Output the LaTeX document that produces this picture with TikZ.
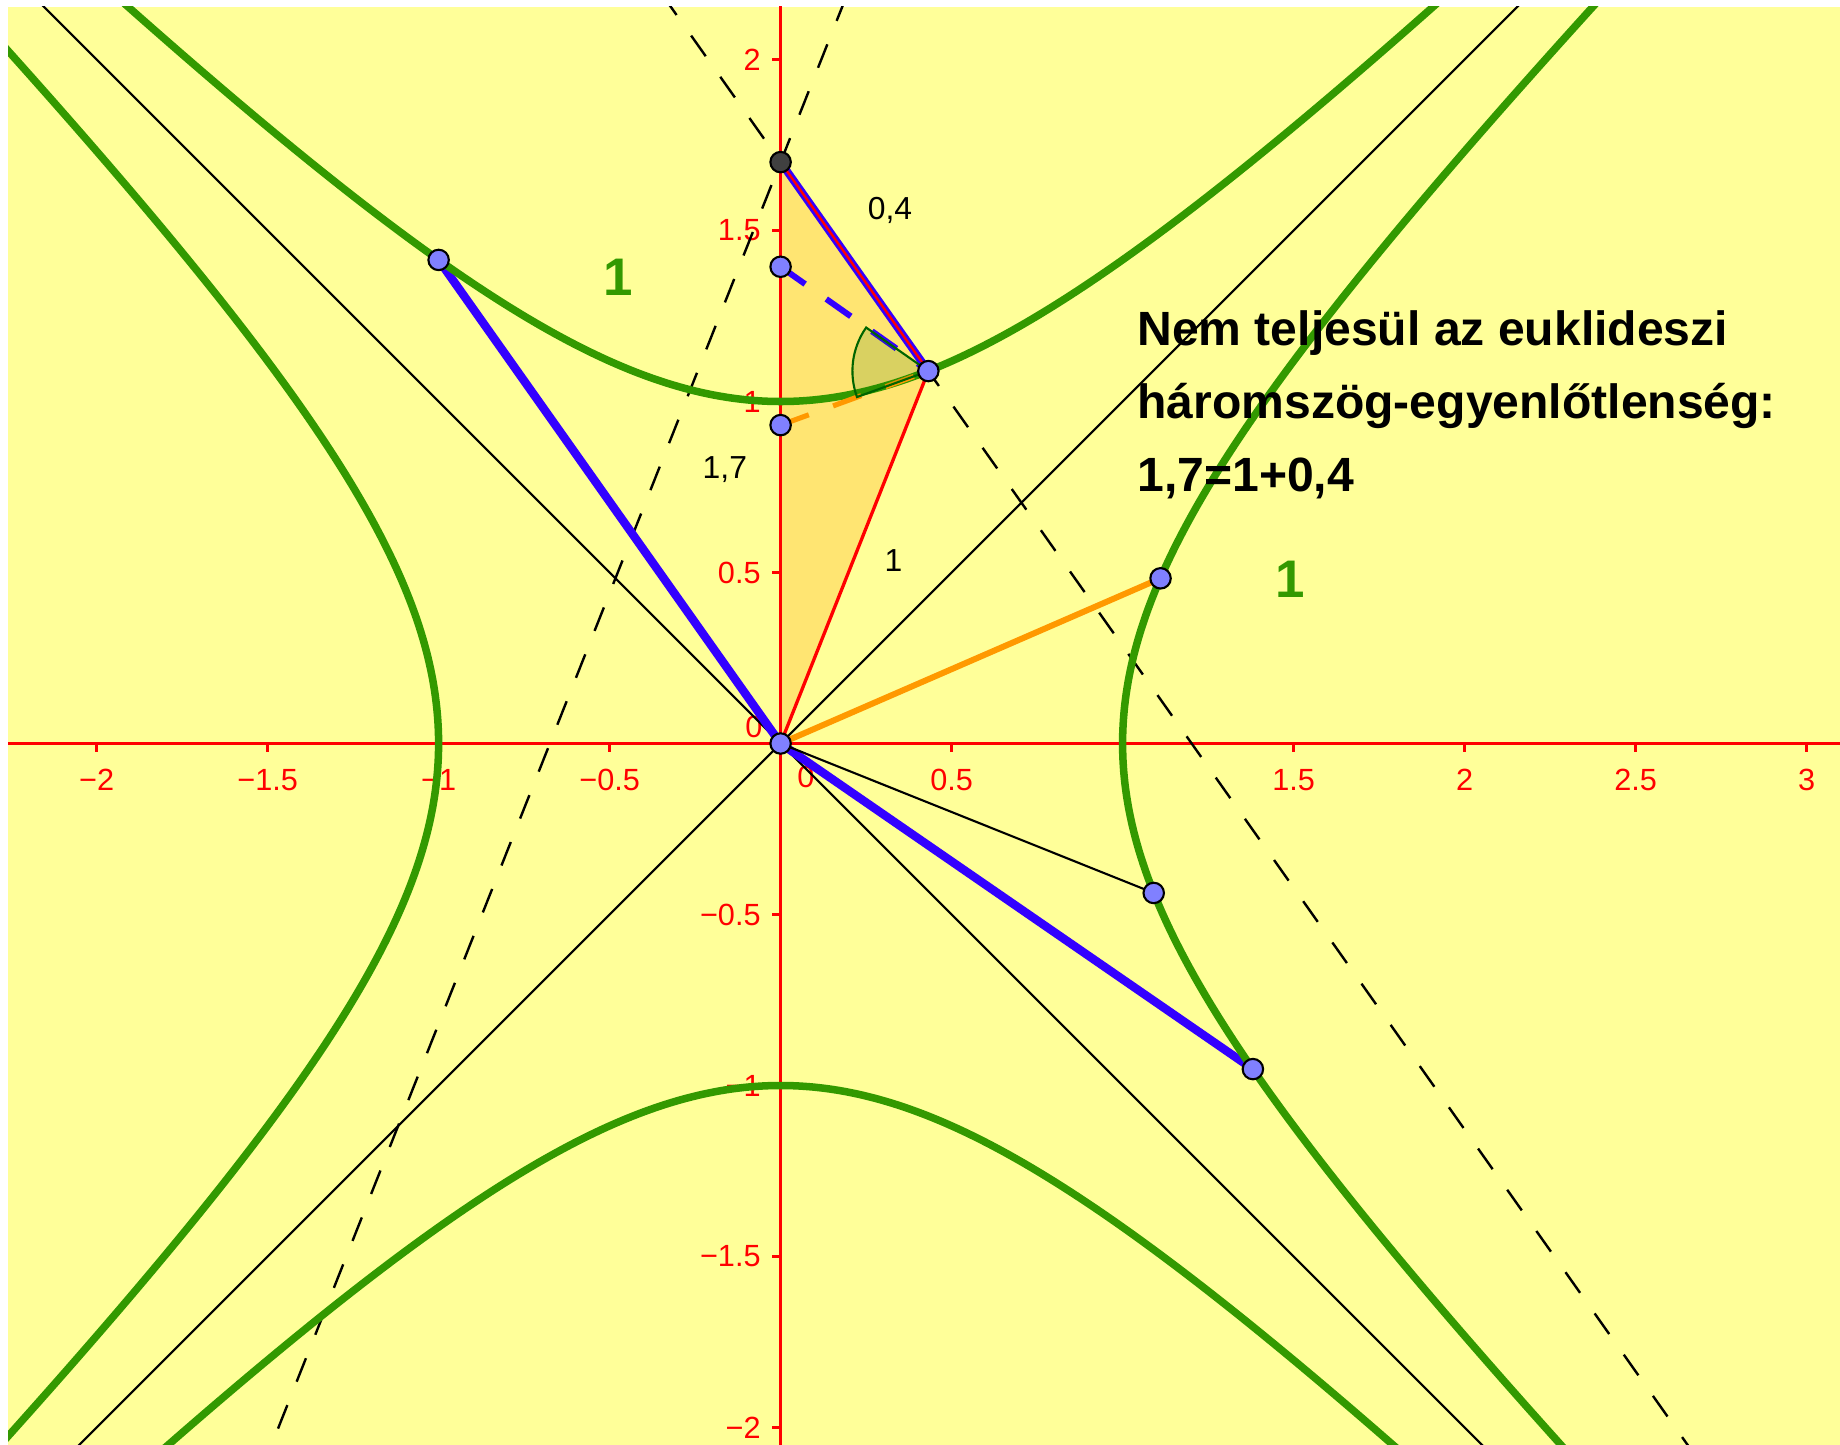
\documentclass[tikz,border=0pt]{standalone}
\usepackage{fontspec}
\setmainfont{Liberation Sans}
\usepackage{xcolor}
\usetikzlibrary{calc}

\definecolor{hatter}{RGB}{255,255,153}
\definecolor{gorbe}{RGB}{51,153,0}
\definecolor{kek}{RGB}{51,0,255}
\definecolor{narancs}{RGB}{255,153,0}
\definecolor{pontszin}{RGB}{128,128,255}
\definecolor{sotetzold}{RGB}{0,100,0}

\begin{document}
\begin{tikzpicture}[x=2cm, y=2cm,
    tengely/.style={red, line width=0.5pt},
    felirat/.style={red, inner sep=0pt, font=\fontsize{5.1}{6}\selectfont},
    hiperbola/.style={gorbe, line width=1.25pt},
    aszimptota/.style={black, line width=0.35pt},
    szaggatott/.style={black, line width=0.4pt, dash pattern=on 4.2pt off 4.2pt},
    pont/.style={circle, draw=black, fill=pontszin, line width=0.35pt, inner sep=0pt, minimum size=3.4pt},
    cimke/.style={black, inner sep=0pt, font=\fontsize{5.3}{6.4}\selectfont},
    egyes/.style={gorbe, inner sep=0pt, font=\bfseries\fontsize{8.8}{10}\selectfont}]

    % ==========================================
    % 0. KERET ES HATTER
    % ==========================================
    \fill[white] (-2.2825,-2.051) rectangle (3.0977,2.174);
    \useasboundingbox (-2.2825,-2.051) rectangle (3.0977,2.174);
    \fill[hatter] (-2.259,-2.051) rectangle (3.0977,2.154);

    % Pontok
    \coordinate (O) at (0,0);
    \coordinate (T) at (0,1.7);
    \coordinate (P) at (0.432,1.089);
    \coordinate (B) at (0,1.394);
    \coordinate (Q) at (0,0.931);
    \coordinate (L) at (-1,1.414);
    \coordinate (R1) at (1.111,0.483);
    \coordinate (R2) at (1.091,-0.437);
    \coordinate (R3) at (1.381,-0.952);

    \begin{scope}
    \clip (-2.259,-2.051) rectangle (3.0977,2.154);

    % Haromszog kitoltese
    \fill[narancs, opacity=0.25] (O) -- (T) -- (P) -- cycle;

    % ==========================================
    % 1. TENGELYEK
    % ==========================================
    \coordinate (xbal) at (-2.4,0);
    \coordinate (xjobb) at (3.2,0);
    \coordinate (ylent) at (0,-2.2);
    \coordinate (yfent) at (0,2.3);
    \draw[tengely] (xbal) -- (xjobb);
    \draw[tengely] (ylent) -- (yfent);

    \foreach \x/\t [count=\i] in {-2/−2, -1.5/−1.5, -1/−1, -0.5/−0.5, 0.5/0.5, 1/, 1.5/1.5, 2/2, 2.5/2.5, 3/3} {
        \draw[tengely] (\x,0) -- (\x,-0.026);
        \node[felirat] (xc\i) at (\x,-0.107) {\t};
    }
    \foreach \y/\t [count=\i] in {-2/−2, -1.5/−1.5, -1/−1, -0.5/−0.5, 0.5/0.5, 1/1, 1.5/1.5, 2/2} {
        \draw[tengely] (0,\y) -- (-0.026,\y);
        \node[felirat, anchor=east] (yc\i) at (-0.055,\y) {\t};
    }
    \node[felirat] (x0) at (0.074,-0.098) {0};
    \node[felirat] (y0) at (-0.078,0.048) {0};

    % ==========================================
    % 2. ASZIMPTOTAK ES SZAGGATOTT EGYENESEK
    % ==========================================
    \coordinate (a1) at (-2.4,-2.4);
    \coordinate (a2) at (3.2,3.2);
    \coordinate (a3) at (-2.4,2.4);
    \coordinate (a4) at (3.2,-3.2);
    \draw[aszimptota] (a1) -- (a2);
    \draw[aszimptota] (a3) -- (a4);

    \coordinate (e1) at ($(T)!-1!(P)$);
    \coordinate (e2) at ($(T)!6.5!(P)$);
    \coordinate (f1) at (0.3,2.456);
    \coordinate (f2) at (-1.6,-2.332);
    \draw[szaggatott] (e1) -- (e2);
    \draw[szaggatott] (f1) -- (f2);

    % ==========================================
    % 3. SZAKASZOK
    % ==========================================
    \draw[kek, line width=1.4pt] (O) -- (L);
    \draw[kek, line width=1.4pt] (O) -- (R3);
    \draw[narancs, line width=1pt] (O) -- (R1);
    \draw[black, line width=0.35pt] (O) -- (R2);
    \draw[red, line width=0.55pt] (O) -- (P);
    \draw[kek, line width=1.3pt] (T) -- (P);
    \draw[red, line width=0.4pt] (T) -- (P);

    % ==========================================
    % 4. HIPERBOLAK
    % ==========================================
    \draw[hiperbola] plot[domain=-2.4:3.2, samples=120, smooth] (\x, {sqrt(1+\x*\x)});
    \draw[hiperbola] plot[domain=-2.4:3.2, samples=120, smooth] (\x, {-sqrt(1+\x*\x)});
    \draw[hiperbola] plot[domain=-2.2:2.3, samples=120, smooth] ({sqrt(1+\x*\x)}, \x);
    \draw[hiperbola] plot[domain=-2.2:2.3, samples=120, smooth] ({-sqrt(1+\x*\x)}, \x);

    % Szaggatott szakaszok P-ig
    \draw[kek, line width=1pt, dash pattern=on 5pt off 4.3pt] (B) -- (P);
    \draw[narancs, line width=0.85pt, dash pattern=on 5pt off 4.3pt] (Q) -- (P);

    % Szog P-nel
    \draw[sotetzold, fill=sotetzold, fill opacity=0.15, line width=0.35pt]
        (P) -- ++(145:0.222) arc[start angle=145, end angle=200, radius=0.222] -- cycle;
    \end{scope}

    % ==========================================
    % 5. FELIRATOK
    % ==========================================
    \node[cimke] (hossz04) at (0.32,1.56) {0,4};
    \node[cimke] (hossz17) at (-0.163,0.80) {1,7};
    \node[cimke] (hossz1) at (0.33,0.536) {1};
    \node[egyes] (egy1) at (-0.475,1.364) {1};
    \node[egyes] (egy2) at (1.49,0.48) {1};
    % base = az utolso sor alapvonala
    \node[anchor=base west, align=left, inner sep=0pt,
          font=\bfseries\fontsize{8}{12.15}\selectfont] (szoveg) at (1.04,0.737)
        {Nem teljesül az euklideszi\\háromszög-egyenlőtlenség:\\1,7=1+0,4};

    % Pontok rajza
    \foreach \p in {O,P,B,Q,L,R1,R2,R3} {
        \node[pont] (pt\p) at (\p) {};
    }
    \node[pont, fill=black!75] (ptT) at (T) {};

\end{tikzpicture}
\end{document}
